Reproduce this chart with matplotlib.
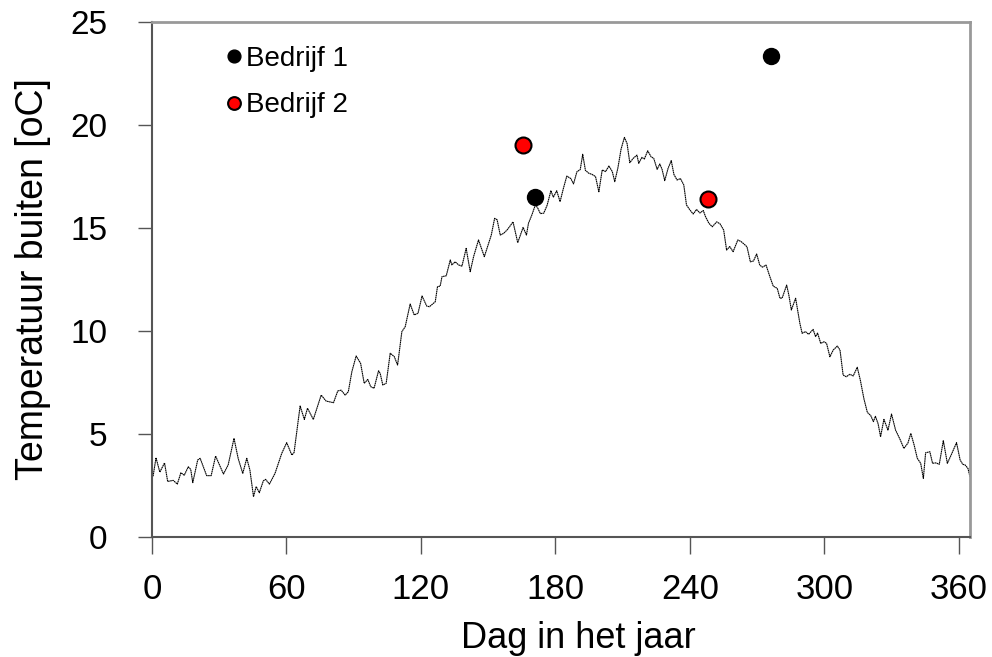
import matplotlib.pyplot as plt

plt.rcParams['font.family'] = ['Liberation Sans', 'DejaVu Sans']

# outdoor temperature (day, degC)
days = [0.5, 1.8, 3.5, 5.6, 7.0, 9.5, 11.3, 12.9, 14.4, 16.2, 17.3, 18.2, 20.4, 21.5,
        24.4, 26.4, 28.4, 31.9, 34.0, 36.6, 38.5, 40.5, 42.3, 43.7, 45.3, 46.5, 47.9,
        49.7, 50.7, 52.4, 54.9, 57.9, 60.1, 62.4, 63.4, 66.1, 68.0, 69.4, 72.0, 75.5,
        77.7, 81.0, 82.9, 84.4, 86.2, 87.6, 89.2, 91.1, 93.1, 94.7, 96.3, 97.6, 99.1,
        101.1, 101.8, 103.0, 104.5, 106.3, 108.1, 109.6, 111.5, 113.0, 115.2, 117.0,
        118.7, 120.5, 122.6, 123.8, 126.4, 127.4, 128.6, 129.4, 131.3, 133.1, 133.8,
        135.3, 136.8, 138.3, 140.2, 142.0, 143.5, 145.7, 148.3, 149.7, 151.4, 152.9,
        154.0, 155.4, 156.9, 158.4, 159.6, 161.1, 163.2, 165.6, 167.1, 168.0, 169.5,
        171.0, 172.0, 173.3, 174.8, 176.3, 178.0, 179.1, 180.6, 182.1, 183.6, 185.1,
        186.9, 188.1, 189.6, 191.1, 192.2, 193.4, 194.9, 196.4, 197.9, 199.4, 200.9,
        202.4, 203.9, 205.4, 206.5, 207.9, 209.3, 210.8, 212.0, 213.2, 214.7, 216.4,
        217.2, 218.6, 219.7, 221.2, 222.7, 223.9, 225.4, 226.6, 227.6, 228.8, 230.3,
        231.7, 232.9, 234.3, 235.8, 237.3, 238.5, 240.0, 241.5, 243.0, 244.5, 246.0,
        247.0, 248.5, 250.0, 252.0, 253.5, 255.1, 256.4, 257.8, 259.3, 261.4, 262.9,
        264.4, 265.5, 267.0, 268.4, 269.8, 271.2, 272.4, 274.0, 275.7, 277.2, 279.0,
        280.2, 281.2, 283.2, 284.2, 285.3, 287.2, 289.1, 290.1, 291.6, 293.0, 295.0,
        296.1, 297.0, 298.4, 299.9, 301.0, 302.5, 304.0, 305.8, 307.0, 308.4, 309.8,
        311.4, 312.9, 314.7, 316.1, 317.7, 319.2, 320.7, 321.9, 322.8, 324.0, 325.1,
        326.6, 328.4, 330.0, 331.8, 333.8, 335.5, 337.3, 338.6, 340.1, 341.5, 343.0,
        344.2, 345.2, 347.1, 348.3, 349.8, 351.3, 353.1, 354.9, 356.6, 359.0, 360.6,
        361.8, 362.8, 364.1, 365.0]
temp = [2.95, 3.85, 3.15, 3.6, 2.7, 2.75, 2.57, 3.12, 3.0, 3.41, 3.28, 2.64, 3.74, 3.82,
        2.98, 2.98, 3.93, 3.06, 3.5, 4.79, 3.8, 3.09, 3.82, 3.25, 1.96, 2.45, 2.15,
        2.73, 2.8, 2.57, 3.09, 4.06, 4.58, 3.98, 4.1, 6.36, 5.71, 6.25, 5.71, 6.89,
        6.6, 6.52, 7.09, 7.13, 6.89, 7.05, 8.03, 8.79, 8.43, 7.46, 7.65, 7.3, 7.22,
        8.07, 7.95, 7.38, 7.46, 8.92, 8.76, 8.35, 9.97, 10.21, 11.31, 10.78,
        10.86, 11.7, 11.21, 11.18, 11.42, 12.15, 12.18, 12.64, 12.68, 13.45, 13.21,
        13.36, 13.21, 13.15, 14.01, 12.88, 13.61, 14.42, 13.61, 14.09, 14.66, 15.47,
        15.4, 14.66, 14.74, 14.9, 15.07, 15.3, 14.29, 15.03, 14.66, 15.23, 15.63,
        16.1, 16.0, 15.7, 15.72, 16.1, 16.81, 16.5, 16.81, 16.28, 16.93, 17.52,
        17.4, 17.14, 17.73, 17.84, 18.58, 17.8, 17.66, 17.6, 17.5, 16.76, 17.82,
        17.74, 18.01, 17.74, 17.25, 17.92, 18.82, 19.4, 19.1, 18.17, 18.38, 18.54,
        18.14, 18.43, 18.35, 18.75, 18.46, 18.38, 17.85, 18.11, 17.85, 17.3, 17.9,
        18.27, 17.6, 17.33, 17.4, 17.09, 16.12, 15.88, 15.68, 15.9, 15.73, 15.85,
        15.55, 15.23, 15.06, 15.3, 15.2, 14.9, 13.93, 14.1, 13.85, 14.42, 14.34,
        14.2, 14.09, 13.36, 13.4, 13.74, 13.2, 13.1, 13.2, 12.64, 12.18, 12.07,
        11.59, 11.6, 12.23, 11.73, 11.02, 11.59, 10.37, 9.89, 9.97, 9.84, 10.08,
        9.73, 9.9, 9.4, 9.48, 9.4, 8.75, 9.08, 9.27, 9.08, 7.86, 7.78,
        7.9, 7.82, 8.24, 7.6, 6.7, 6.05, 5.9, 5.6, 5.86, 5.5, 4.87,
        5.71, 5.19, 5.97, 5.19, 4.74, 4.3, 4.56, 5.03, 4.46, 3.82, 3.58,
        2.85, 4.09, 4.14, 3.58, 3.6, 3.53, 4.68, 3.58, 3.98, 4.58, 3.74,
        3.53, 3.5, 3.33, 2.93]

# company measurements
bedrijf1_day = [171, 276.3]
bedrijf1_temp = [16.5, 23.35]
bedrijf2_day = [165.4, 248.2]
bedrijf2_temp = [19.05, 16.4]

fig = plt.figure(figsize=(9.92, 6.57), dpi=100)
ax = fig.add_axes([0.1532, 0.1826, 0.8246, 0.7839])

ax.plot(days, temp, color='black', lw=0.8, linestyle=(0, (1.5, 0.4)))
ax.plot(bedrijf1_day, bedrijf1_temp, 'o', color='black', ms=11.5, mec='black',
        label='Bedrijf 1')
ax.plot(bedrijf2_day, bedrijf2_temp, 'o', color='red', ms=11.5, mec='black', mew=1.5,
        label='Bedrijf 2')

ax.set_xlim(0, 365)
ax.set_ylim(0, 25)
ax.set_xticks([0, 60, 120, 180, 240, 300, 360])
ax.set_yticks([0, 5, 10, 15, 20, 25])
ax.tick_params(axis='y', direction='out', length=10, width=1, color='#555555',
               labelsize=24, pad=22)
ax.tick_params(axis='x', direction='out', length=12, width=1, color='#555555',
               labelsize=25, pad=14)

for s in ['top', 'right']:
    ax.spines[s].set_color('#999999')
    ax.spines[s].set_linewidth(2)
for s in ['left', 'bottom']:
    ax.spines[s].set_color('#555555')
    ax.spines[s].set_linewidth(1.5)

ax.set_xlabel('Dag in het jaar', fontsize=26, va='top')
ax.xaxis.set_label_coords(0.521, -0.164)
ax.set_ylabel('Temperatuur buiten [oC]', fontsize=27, labelpad=14)

ax.legend(loc='upper left', bbox_to_anchor=(0.068, 0.992), frameon=False,
          fontsize=20, markerscale=0.8, handlelength=0.5, handletextpad=0.2,
          labelspacing=0.75, borderpad=0.2)

fig.savefig('out.png', dpi=100)
